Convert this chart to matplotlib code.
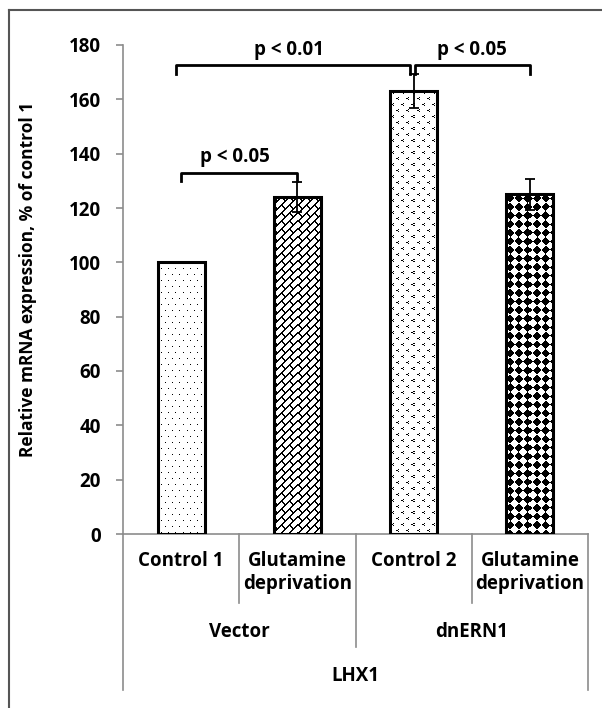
import numpy as np
import matplotlib
matplotlib.use('Agg')
import matplotlib.pyplot as plt
from matplotlib.transforms import blended_transform_factory
from matplotlib.lines import Line2D

# data
groups = ['Vector', 'dnERN1']
conditions = ['Control 1', 'Glutamine\ndeprivation', 'Control 2', 'Glutamine\ndeprivation']
gene = 'LHX1'
values = [100, 124, 163, 125]
errors = [0, 5.5, 6.3, 5.8]
yticks = [0, 20, 40, 60, 80, 100, 120, 140, 160, 180]

# significance brackets: (left x, right x, height, label)
brackets = [(0, 1, 133, 'p < 0.05'),
            (0, 2, 172.5, 'p < 0.01'),
            (2, 3, 172.5, 'p < 0.05')]

plt.rcParams['font.family'] = ['Open Sans', 'DejaVu Sans']
plt.rcParams['font.weight'] = 'bold'
FS = 13.5


# pixel fill patterns (1 = black), excel style
def pat_dots(ii, jj):
    t = np.zeros((12, 7))
    t[0, 0] = 1
    t[6, 3] = 1
    return t[ii % 12, jj % 7]


def pat_brick(ii, jj):
    # long bricks running up to the right
    p = 8
    a = ii + jj
    k = a // p
    slash = a % p >= p - 2
    back = (ii - jj - (k % 2) * p) % (2 * p) <= 1
    return (slash | back).astype(float)


def pat_arrows(ii, jj):
    t = np.zeros((12, 10))
    for r0, c0 in [(0, 1), (6, 6)]:
        for dr, dc in [(0, 2), (1, 0), (1, 1), (2, 2)]:
            t[r0 + dr, (c0 + dc) % 10] = 1
    return t[ii % 12, jj % 10]


def pat_diamond(ii, jj):
    p = 8.6
    dx = (jj + 0.5) % p - p / 2
    dy = (ii + 0.5) % p - p / 2
    return (np.abs(dx) + np.abs(dy) <= p / 2 * 0.98).astype(float)


patterns = [pat_dots, pat_brick, pat_arrows, pat_diamond]

fig = plt.figure(figsize=(6.02, 7.08), dpi=100)
ax = fig.add_axes([123 / 602, 1 - 534 / 708, 465 / 602, 489 / 708])

x = np.arange(len(values))
bars = ax.bar(x, values, width=0.405, facecolor='none', edgecolor='black',
              linewidth=2.2, zorder=3)
ax.errorbar(x[1:], values[1:], yerr=errors[1:], fmt='none', ecolor='black',
            elinewidth=1.3, capsize=3.5, capthick=1.3, zorder=4)

ax.set_xlim(-0.5, 3.5)
ax.set_ylim(0, 180)
fig.canvas.draw()

# fill each bar with a pixel pattern clipped to the bar
for bar, pat in zip(bars, patterns):
    bb = bar.get_window_extent()
    w, h = int(round(bb.width)), int(round(bb.height))
    ii, jj = np.mgrid[0:h, 0:w]
    img = pat(ii, jj)
    im = ax.imshow(img, cmap='gray_r', vmin=0, vmax=1, interpolation='nearest',
                   extent=(bar.get_x(), bar.get_x() + bar.get_width(), 0, bar.get_height()),
                   aspect='auto', zorder=2)
    im.set_clip_path(bar)

ax.set_xlim(-0.5, 3.5)
ax.set_ylim(0, 180)

# axes styling
for side in ['top', 'right']:
    ax.spines[side].set_visible(False)
for side in ['left', 'bottom']:
    ax.spines[side].set_color('#8c8c8c')
    ax.spines[side].set_linewidth(1.2)
ax.set_yticks(yticks)
ax.tick_params(axis='y', length=5, width=1.2, color='#8c8c8c', pad=11, labelsize=FS)
ax.set_xticks([])
ax.set_ylabel('Relative mRNA expression, % of control 1', fontsize=12.5, fontweight='bold')
ax.yaxis.set_label_coords(-0.186, 0.52)

# multi level category axis
trans = blended_transform_factory(ax.transData, ax.transAxes)
sep_color = '#8c8c8c'
for xb in [0.5, 2.5]:
    ax.plot([xb, xb], [0, -0.141], color=sep_color, lw=1.2, transform=trans, clip_on=False)
ax.plot([1.5, 1.5], [0, -0.232], color=sep_color, lw=1.2, transform=trans, clip_on=False)
for xb in [-0.5, 3.5]:
    ax.plot([xb, xb], [0, -0.32], color=sep_color, lw=1.2, transform=trans, clip_on=False)

for xi, lab in zip(x, conditions):
    ax.text(xi, -0.035, lab, transform=trans, ha='center', va='top',
            fontsize=FS, fontweight='bold', linespacing=1.2)
for gi, lab in enumerate(groups):
    ax.text(2 * gi + 0.5, -0.201, lab, transform=trans, ha='center', va='center',
            fontsize=FS, fontweight='bold')
ax.text(1.5, -0.291, gene, transform=trans, ha='center', va='center',
        fontsize=FS, fontweight='bold')

# significance brackets
for x0, x1, yb, lab in brackets:
    wide = x1 - x0 > 1
    xl = x0 - 0.04 if wide else x0
    xr = x1 - 0.03 if wide else x1
    if x0 == 2:
        xl = x0 + 0.01
    ax.plot([xl, xl, xr, xr], [yb - 3, yb, yb, yb - 3], color='black', lw=2,
            clip_on=False, zorder=5)
    xt = (xl + xr) / 2 - (0.04 if wide else 0) - (0.04 if (x0, x1) == (0, 1) else 0)
    ax.text(xt, yb + 2, lab, ha='center', va='bottom', fontsize=FS, fontweight='bold')

# outer frame of the figure
fig.add_artist(Line2D([9 / 602, 9 / 602], [0, 1 - 10 / 708], color='#555555', lw=1.5))
fig.add_artist(Line2D([9 / 602, 1], [1 - 10 / 708, 1 - 10 / 708], color='#555555', lw=1.5))

fig.savefig('out.png', dpi=100)
